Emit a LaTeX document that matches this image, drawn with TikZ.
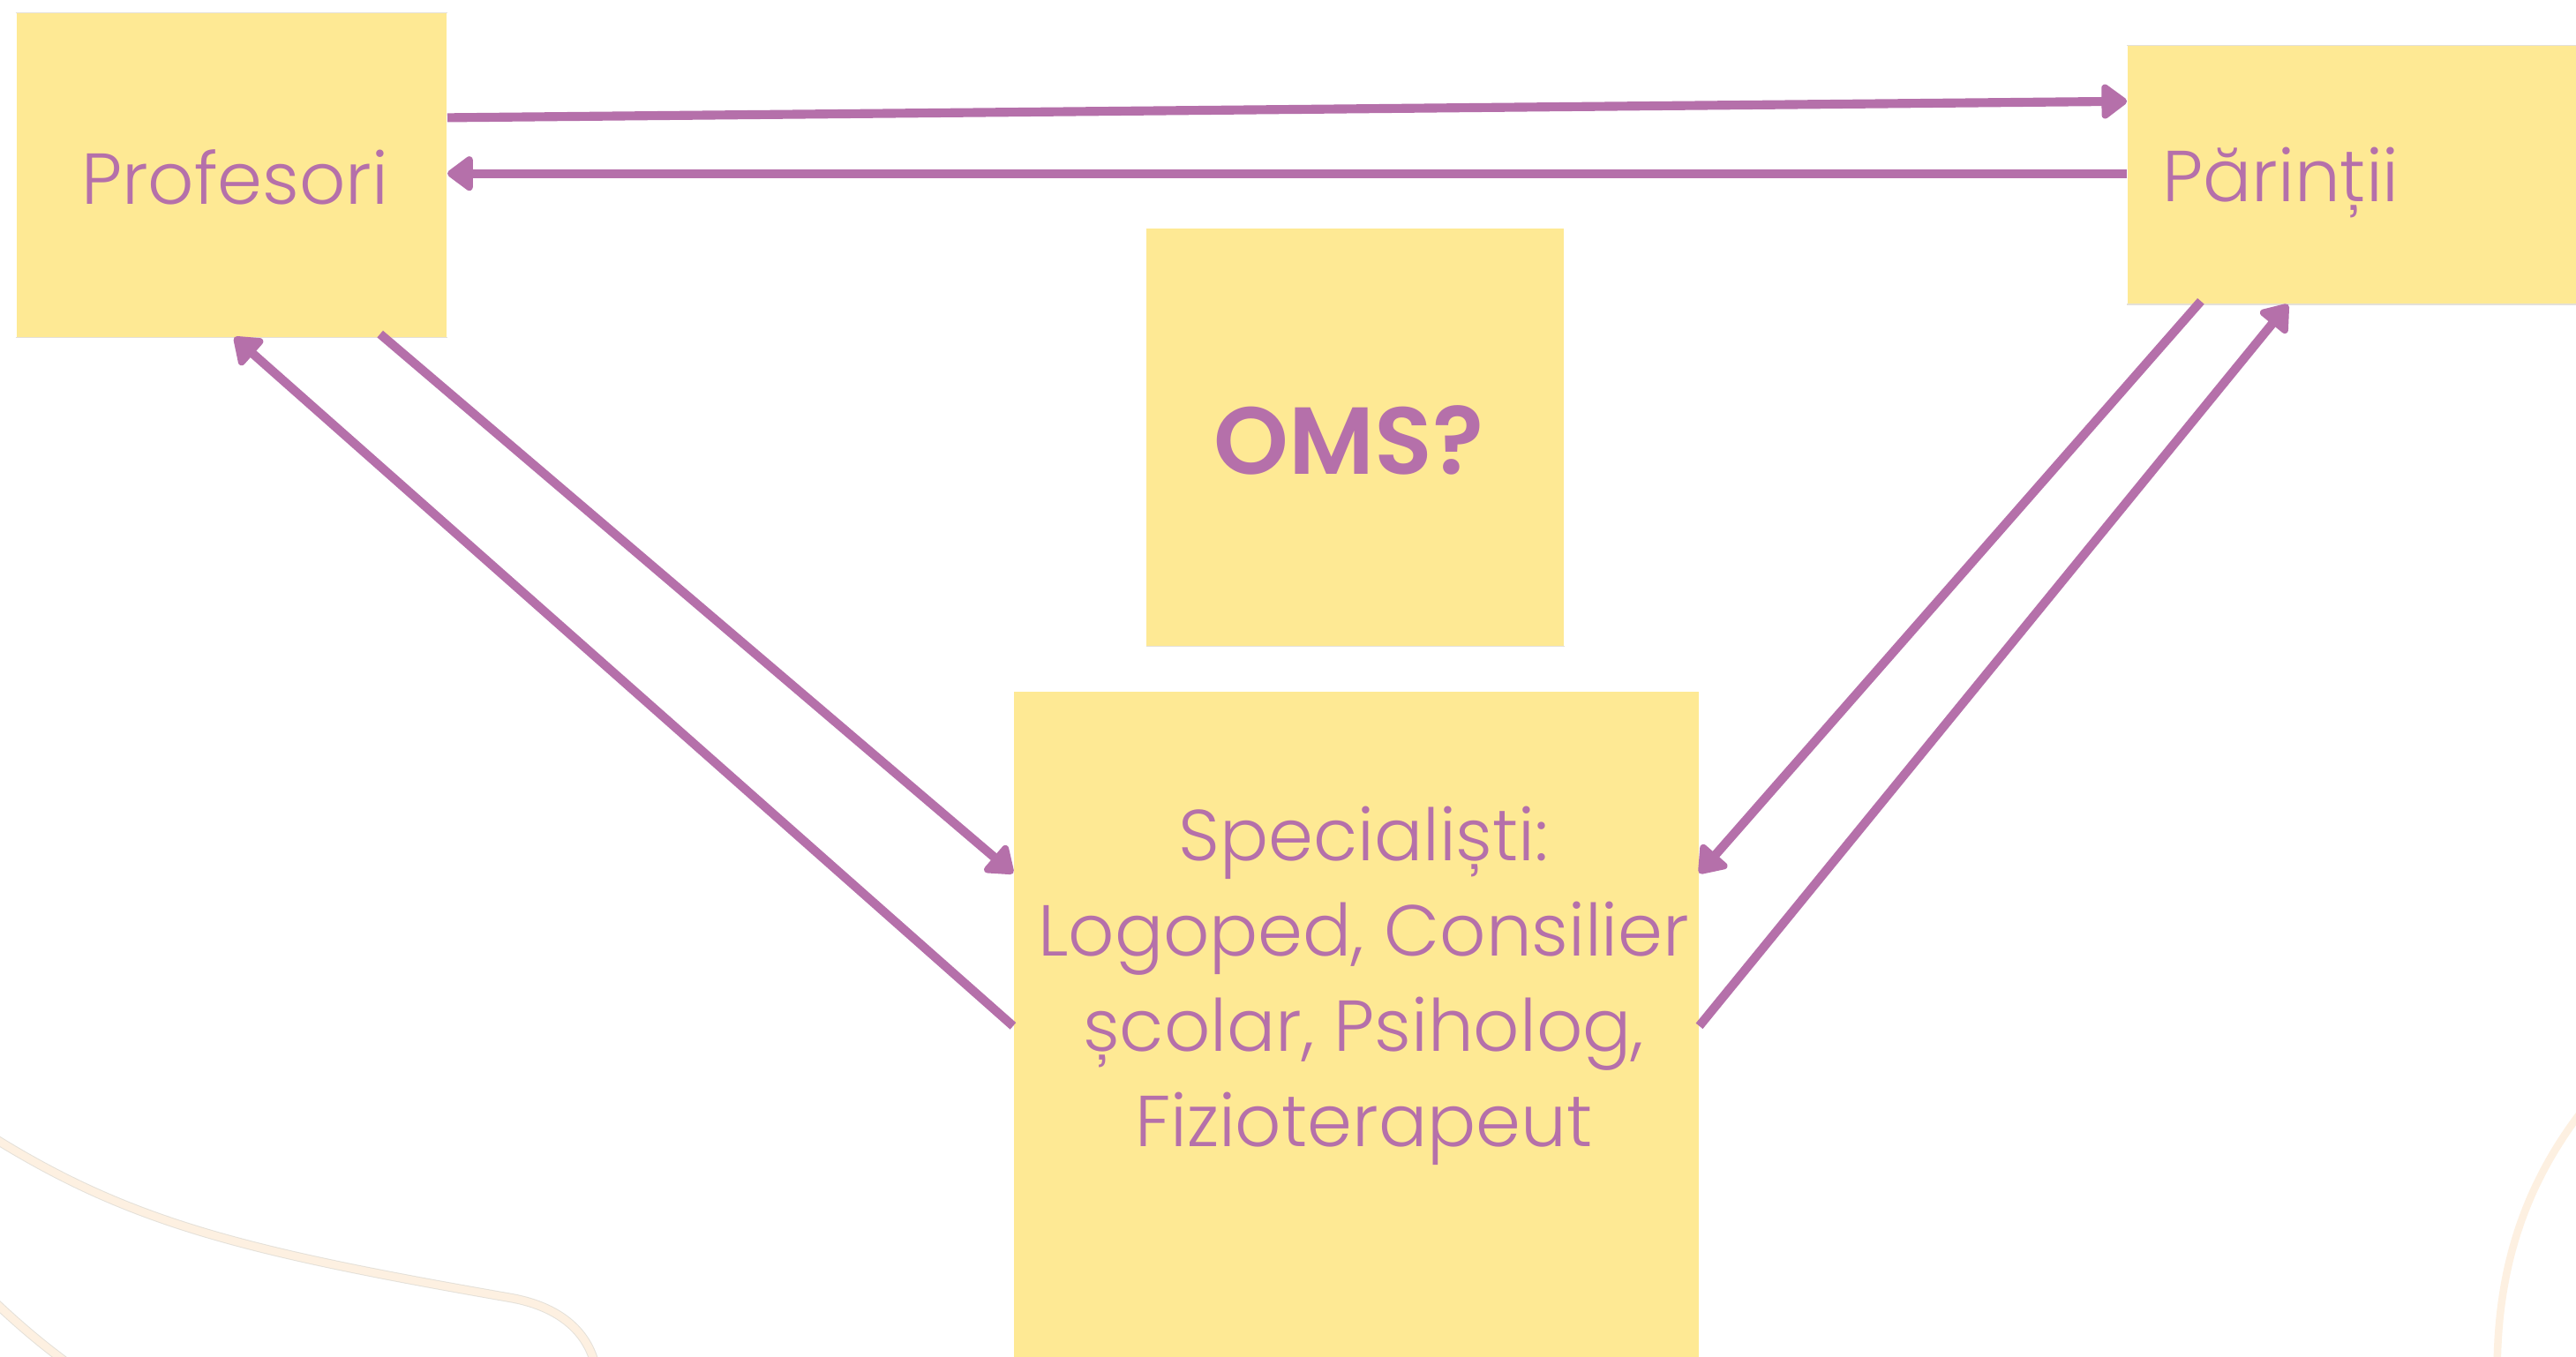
\documentclass[tikz,border=0pt]{standalone}
\usepackage{fontspec}
\IfFontExistsTF{Poppins Light}{\setmainfont{Poppins Light}[BoldFont=Poppins SemiBold]}{\setmainfont{Poppins}}
\usetikzlibrary{arrows.meta,calc}
\definecolor{boxfill}{HTML}{FEE994}
\definecolor{ink}{HTML}{B570AA}
\definecolor{peach}{HTML}{FDF0E1}
\definecolor{edge}{HTML}{E4E0D8}
\tikzset{
  note/.style={rectangle, fill=boxfill, inner sep=0pt, draw=none},
  lbl/.style={text=ink, font=\fontsize{25}{33}\selectfont, align=center, inner sep=0pt},
  link/.style={draw=ink, line width=3.1pt, -{Triangle[round,length=0.34cm,width=0.48cm]}, line join=round},
  deco/.style={draw=peach, line width=2.6pt},
  decoedge/.style={draw=edge, line width=3.2pt}
}
\begin{document}
\begin{tikzpicture}[x=0.02cm,y=-0.02cm]
\useasboundingbox (0,0) rectangle (1568,826);
\fill[white] (0,0) rectangle (1568,826);
\begin{scope}
\clip (0,0) rectangle (1568,826);
% decorative background curves
\draw[decoedge] (-5,692) .. controls (80,745) and (150,762) .. (310,790) .. controls (345,796) and (360,815) .. (363,835);
\draw[deco] (-5,692) .. controls (80,745) and (150,762) .. (310,790) .. controls (345,796) and (360,815) .. (363,835);
\draw[decoedge] (-5,791) .. controls (15,810) and (30,822) .. (48,835);
\draw[deco] (-5,791) .. controls (15,810) and (30,822) .. (48,835);
\draw[deco] (1575,672) .. controls (1535,722) and (1520,775) .. (1520,835);
% boxes
\node[note, minimum width=262*0.02cm, minimum height=197*0.02cm] (prof) at (141,106.5) {};
\node[note, minimum width=273*0.02cm, minimum height=157*0.02cm] (par) at (1431.5,106.5) {};
\node[note, minimum width=254*0.02cm, minimum height=254*0.02cm] (oms) at (825,266) {};
\node[note, minimum width=417*0.02cm, minimum height=410*0.02cm] (spec) at (825.5,626) {};
\end{scope}
\draw[edge, line width=0.4pt] (prof.north west) -- (prof.north east);
\draw[edge, line width=0.4pt] (prof.south west) -- (prof.south east);
\draw[edge, line width=0.4pt] (par.north west) -- (par.north east);
\draw[edge, line width=0.4pt] (par.south west) -- (par.south east);
\draw[edge, line width=0.4pt] (oms.south west) -- (oms.south east);
% texts
\node[lbl] (proft) at (143,108) {Profesori};
\node[lbl, anchor=west] (part) at (1316,111) {Părinții};
\node[lbl, font=\fontsize{33}{40}\bfseries\selectfont] (omst) at (821,268) {OMS?};
\node[lbl] (spect) at (830,600) {Specialiști:\\Logoped, Consilier\\școlar, Psiholog,\\Fizioterapeut};
% connectors
\draw[link] ($(prof.north east)+(0,64)$) -- ($(par.north west)+(0,34)$);
\draw[link] ($(par.north west)+(0,78)$) -- ($(prof.north east)+(0,98)$);
\draw[link] ($(prof.south east)+(-41,-2)$) -- ($(spec.north west)+(0,111)$);
\draw[link] ($(spec.north west)+(0,204)$) -- ($(prof.south west)+(133,0)$);
\draw[link] ($(par.south west)+(45,-2)$) -- ($(spec.north east)+(0,111)$);
\draw[link] ($(spec.north east)+(0,204)$) -- ($(par.south west)+(98,0)$);
\end{tikzpicture}
\end{document}
